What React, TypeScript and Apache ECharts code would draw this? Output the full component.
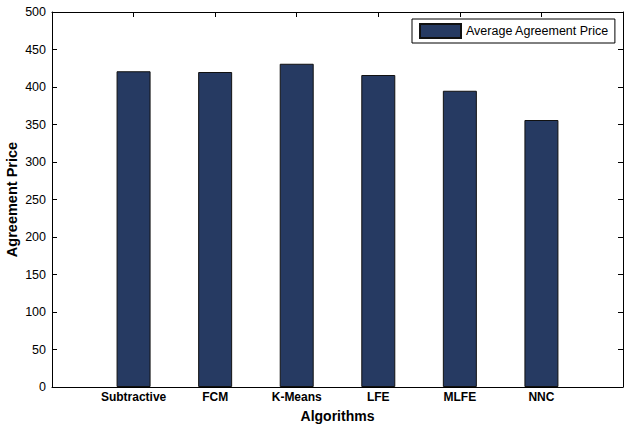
import React, { useEffect, useRef } from "react";
import * as echarts from "echarts";

const categories = ["Subtractive", "FCM", "K-Means", "LFE", "MLFE", "NNC"];
const positions = [1, 2, 3, 4, 5, 6];
const avgPrice = [421, 420, 431, 416, 395, 356];
const yTicks = [0, 50, 100, 150, 200, 250, 300, 350, 400, 450, 500];

export default function App() {
  const ref = useRef<HTMLDivElement>(null);
  useEffect(() => {
    if (!ref.current) return;
    const chart = echarts.init(ref.current, null, { renderer: "svg" });
    const labelFor = (v: number) => {
      const i = positions.indexOf(v);
      return i >= 0 ? categories[i] : "";
    };
    const axisLine = { show: true, onZero: false, lineStyle: { color: "#000", width: 1 } };
    const tick = { show: true, inside: true, length: 5, lineStyle: { color: "#000" } };
    chart.setOption({
      animation: false,
      backgroundColor: "#fff",
      grid: { left: 52, right: 8, top: 12, bottom: 41, containLabel: false, outerBoundsMode: "none" },
      legend: {
        show: true,
        left: 412,
        top: 19,
        orient: "horizontal",
        icon: "rect",
        itemWidth: 41,
        itemHeight: 14,
        padding: [4, 6, 4, 7],
        borderColor: "#000",
        borderWidth: 1,
        backgroundColor: "#fff",
        textStyle: { fontFamily: "Liberation Sans, Arial", fontSize: 12.5, color: "#000", padding: [0, 0, 0, 0] },
        data: ["Average Agreement Price"],
      },
      xAxis: [
        {
          type: "value",
          min: 0,
          max: 7,
          interval: 1,
          position: "bottom",
          axisLine,
          axisTick: tick,
          splitLine: { show: false },
          axisLabel: {
            formatter: (v: number) => labelFor(v),
            fontFamily: "Liberation Sans, Arial",
            fontWeight: "bold",
            fontSize: 12,
            color: "#000",
            margin: 4,
          },
          name: "Algorithms",
          nameLocation: "middle",
          nameGap: 22,
          nameMoveOverlap: false,
          nameTextStyle: { fontFamily: "Liberation Sans, Arial", fontWeight: "bold", fontSize: 14, color: "#000" },
        },
        {
          type: "value",
          min: 0,
          max: 7,
          interval: 1,
          position: "top",
          axisLine,
          axisTick: tick,
          splitLine: { show: false },
          axisLabel: { show: false },
        },
      ],
      yAxis: [
        {
          type: "value",
          min: yTicks[0],
          max: yTicks[yTicks.length - 1],
          interval: 50,
          position: "left",
          axisLine,
          axisTick: tick,
          splitLine: { show: false },
          axisLabel: { fontFamily: "Liberation Sans, Arial", fontSize: 12.5, color: "#000", margin: 6 },
          name: "Agreement Price",
          nameLocation: "middle",
          nameGap: 33,
          nameMoveOverlap: false,
          nameTextStyle: { fontFamily: "Liberation Sans, Arial", fontWeight: "bold", fontSize: 14.5, color: "#000" },
        },
        {
          type: "value",
          min: yTicks[0],
          max: yTicks[yTicks.length - 1],
          interval: 50,
          position: "right",
          axisLine,
          axisTick: tick,
          splitLine: { show: false },
          axisLabel: { show: false },
        },
      ],
      series: [
        {
          name: "Average Agreement Price",
          type: "bar",
          xAxisIndex: 0,
          yAxisIndex: 0,
          barWidth: 34,
          data: positions.map((p, i) => [p, avgPrice[i]]),
          itemStyle: { color: "#263a62", borderColor: "#111", borderWidth: 1 },
        },
      ],
    });
    return () => chart.dispose();
  }, []);
  return (
    <div
      ref={ref}
      style={{ position: "fixed", left: 0, top: 0, width: 631, height: 428 }}
    />
  );
}
